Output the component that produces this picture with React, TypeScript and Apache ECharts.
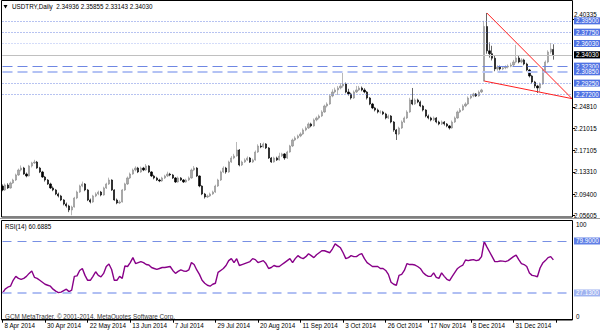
import React, { useEffect, useRef } from "react";
import * as echarts from "echarts";

// ---- axis labels ----
const tickLabels = ["8 Apr 2014", "30 Apr 2014", "22 May 2014", "13 Jun 2014", "7 Jul 2014", "29 Jul 2014", "20 Aug 2014", "11 Sep 2014", "3 Oct 2014", "26 Oct 2014", "17 Nov 2014", "8 Dec 2014", "31 Dec 2014"];
const BARS_PER_LABEL = 16;
const SLOTS = 215;
const priceTicks = [2.05605, 2.094, 2.1331, 2.17105, 2.21015, 2.2481];
const priceTopTick = [2.40335];
const rsiScaleLabels = ["100", "0"];

// ---- OHLC (daily) ----
const open = [
  2.1080, 2.1012, 2.1100, 2.1047, 2.1135, 2.1188, 2.1277, 2.1365, 2.1400, 2.1294,
  2.1259, 2.1436, 2.1489, 2.1506, 2.1400, 2.1330, 2.1241, 2.1188, 2.1118, 2.1047,
  2.1012, 2.0941, 2.0906, 2.0835, 2.0764, 2.0729, 2.0658, 2.0711, 2.0870, 2.0976,
  2.1082, 2.1118, 2.1012, 2.0835, 2.0800, 2.0906, 2.0941, 2.0976, 2.0923, 2.1047,
  2.1118, 2.1188, 2.1012, 2.0835, 2.0782, 2.0800, 2.1012, 2.1118, 2.1224, 2.1294,
  2.1365, 2.1400, 2.1330, 2.1400, 2.1365, 2.1436, 2.1330, 2.1259, 2.1224, 2.1188,
  2.1171, 2.1224, 2.1259, 2.1294, 2.1277, 2.1224, 2.1153, 2.1224, 2.1188, 2.1153,
  2.1188, 2.1224, 2.1365, 2.1400, 2.1259, 2.1082, 2.0941, 2.0888, 2.0906, 2.0941,
  2.0976, 2.1082, 2.1188, 2.1330, 2.1400, 2.1330, 2.1506, 2.1577, 2.1612, 2.1718,
  2.1453, 2.1506, 2.1542, 2.1577, 2.1506, 2.1542, 2.1683, 2.1789, 2.1772, 2.1825,
  2.1754, 2.1577, 2.1506, 2.1577, 2.1542, 2.1612, 2.1648, 2.1577, 2.1683, 2.1789,
  2.1895, 2.1931, 2.1966, 2.2001, 2.2072, 2.2107, 2.2178, 2.2143, 2.2249, 2.2284,
  2.2319, 2.2390, 2.2496, 2.2531, 2.2673, 2.2743, 2.2779, 2.2814, 2.2849, 2.2885,
  2.2743, 2.2708, 2.2637, 2.2743, 2.2779, 2.2814, 2.2779, 2.2743, 2.2637, 2.2531,
  2.2461, 2.2425, 2.2390, 2.2390, 2.2355, 2.2284, 2.2319, 2.2213, 2.2072, 2.2001,
  2.2107, 2.2213, 2.2284, 2.2390, 2.2602, 2.2531, 2.2602, 2.2567, 2.2496, 2.2425,
  2.2319, 2.2284, 2.2249, 2.2284, 2.2213, 2.2178, 2.2213, 2.2178, 2.2143, 2.2107,
  2.2213, 2.2284, 2.2390, 2.2425, 2.2496, 2.2531, 2.2637, 2.2673, 2.2708, 2.2673,
  2.2743, 2.2937, 2.3900, 2.3470, 2.3420, 2.3340, 2.3150, 2.3185, 2.3150, 2.3170,
  2.3185, 2.3200, 2.3220, 2.3273, 2.3344, 2.3273, 2.3309, 2.3238, 2.3132, 2.3026,
  2.2920, 2.2849, 2.2814, 2.2885, 2.3132, 2.3273, 2.3450, 2.34936
];
const close = [
  2.1012, 2.1100, 2.1047, 2.1135, 2.1188, 2.1277, 2.1365, 2.1400, 2.1294, 2.1259,
  2.1436, 2.1489, 2.1506, 2.1400, 2.1330, 2.1241, 2.1188, 2.1118, 2.1047, 2.1012,
  2.0941, 2.0906, 2.0835, 2.0764, 2.0729, 2.0658, 2.0711, 2.0870, 2.0976, 2.1082,
  2.1118, 2.1012, 2.0835, 2.0800, 2.0906, 2.0941, 2.0976, 2.0923, 2.1047, 2.1118,
  2.1188, 2.1012, 2.0835, 2.0782, 2.0800, 2.1012, 2.1118, 2.1224, 2.1294, 2.1365,
  2.1400, 2.1330, 2.1400, 2.1365, 2.1436, 2.1330, 2.1259, 2.1224, 2.1188, 2.1171,
  2.1224, 2.1259, 2.1294, 2.1277, 2.1224, 2.1153, 2.1224, 2.1188, 2.1153, 2.1188,
  2.1224, 2.1365, 2.1400, 2.1259, 2.1082, 2.0941, 2.0888, 2.0906, 2.0941, 2.0976,
  2.1082, 2.1188, 2.1330, 2.1400, 2.1330, 2.1506, 2.1577, 2.1612, 2.1718, 2.1453,
  2.1506, 2.1542, 2.1577, 2.1506, 2.1542, 2.1683, 2.1789, 2.1772, 2.1825, 2.1754,
  2.1577, 2.1506, 2.1577, 2.1542, 2.1612, 2.1648, 2.1577, 2.1683, 2.1789, 2.1895,
  2.1931, 2.1966, 2.2001, 2.2072, 2.2107, 2.2178, 2.2143, 2.2249, 2.2284, 2.2319,
  2.2390, 2.2496, 2.2531, 2.2673, 2.2743, 2.2779, 2.2814, 2.2849, 2.2885, 2.2743,
  2.2708, 2.2637, 2.2743, 2.2779, 2.2814, 2.2779, 2.2743, 2.2637, 2.2531, 2.2461,
  2.2425, 2.2390, 2.2390, 2.2355, 2.2284, 2.2319, 2.2213, 2.2072, 2.2001, 2.2107,
  2.2213, 2.2284, 2.2390, 2.2602, 2.2531, 2.2602, 2.2567, 2.2496, 2.2425, 2.2319,
  2.2284, 2.2249, 2.2284, 2.2213, 2.2178, 2.2213, 2.2178, 2.2143, 2.2107, 2.2213,
  2.2284, 2.2390, 2.2425, 2.2496, 2.2531, 2.2637, 2.2673, 2.2708, 2.2673, 2.2743,
  2.2779, 2.3900, 2.3470, 2.3420, 2.3340, 2.3150, 2.3185, 2.3150, 2.3170, 2.3185,
  2.3200, 2.3220, 2.3273, 2.3344, 2.3273, 2.3309, 2.3238, 2.3132, 2.3026, 2.2920,
  2.2849, 2.2814, 2.2885, 2.3132, 2.3273, 2.3450, 2.3504, 2.34030
];
const high = [
  2.1110, 2.1125, 2.1130, 2.1160, 2.1210, 2.1300, 2.1390, 2.1445, 2.1420, 2.1320,
  2.1455, 2.1510, 2.1545, 2.1525, 2.1420, 2.1350, 2.1260, 2.1205, 2.1140, 2.1075,
  2.1030, 2.0965, 2.0925, 2.0850, 2.0790, 2.0750, 2.0735, 2.0890, 2.1000, 2.1105,
  2.1160, 2.1135, 2.1030, 2.0860, 2.0925, 2.0970, 2.1000, 2.0995, 2.1070, 2.1140,
  2.1230, 2.1200, 2.1025, 2.0860, 2.0830, 2.1030, 2.1140, 2.1250, 2.1320, 2.1390,
  2.1430, 2.1420, 2.1425, 2.1420, 2.1470, 2.1450, 2.1345, 2.1280, 2.1245, 2.1210,
  2.1245, 2.1280, 2.1335, 2.1315, 2.1295, 2.1240, 2.1250, 2.1240, 2.1205, 2.1210,
  2.1250, 2.1390, 2.1435, 2.1415, 2.1270, 2.1095, 2.0960, 2.0930, 2.0965, 2.1000,
  2.1105, 2.1210, 2.1355, 2.1430, 2.1420, 2.1530, 2.1610, 2.1650, 2.1860, 2.1735,
  2.1530, 2.1570, 2.1605, 2.1595, 2.1565, 2.1710, 2.1820, 2.1840, 2.1850, 2.1840,
  2.1770, 2.1595, 2.1600, 2.1600, 2.1670, 2.1670, 2.1665, 2.1705, 2.1810, 2.1920,
  2.1960, 2.1990, 2.2030, 2.2100, 2.2135, 2.2205, 2.2200, 2.2275, 2.2310, 2.2345,
  2.2420, 2.2520, 2.2560, 2.2700, 2.2790, 2.2820, 2.2850, 2.2900, 2.3079, 2.2910,
  2.2800, 2.2730, 2.2770, 2.2850, 2.2850, 2.2840, 2.2810, 2.2760, 2.2655, 2.2550,
  2.2480, 2.2450, 2.2420, 2.2410, 2.2375, 2.2345, 2.2335, 2.2230, 2.2090, 2.2130,
  2.2240, 2.2310, 2.2420, 2.2640, 2.2814, 2.2630, 2.2625, 2.2590, 2.2515, 2.2440,
  2.2345, 2.2305, 2.2310, 2.2300, 2.2235, 2.2240, 2.2230, 2.2195, 2.2160, 2.2240,
  2.2310, 2.2415, 2.2460, 2.2525, 2.2560, 2.2665, 2.2700, 2.2730, 2.2725, 2.2770,
  2.2800, 2.4000, 2.4139, 2.3620, 2.3560, 2.3380, 2.3215, 2.3210, 2.3200, 2.3215,
  2.3230, 2.3260, 2.3310, 2.3574, 2.3380, 2.3340, 2.3330, 2.3260, 2.3150, 2.3045,
  2.2940, 2.2870, 2.2910, 2.3160, 2.3300, 2.3480, 2.3609, 2.35855
];
const low = [
  2.0990, 2.0995, 2.1030, 2.1035, 2.1120, 2.1170, 2.1260, 2.1340, 2.1280, 2.1235,
  2.1250, 2.1410, 2.1470, 2.1385, 2.1310, 2.1225, 2.1160, 2.1100, 2.1030, 2.0990,
  2.0920, 2.0880, 2.0815, 2.0740, 2.0700, 2.0620, 2.0565, 2.0700, 2.0850, 2.0960,
  2.1060, 2.0990, 2.0815, 2.0775, 2.0785, 2.0885, 2.0920, 2.0900, 2.0910, 2.1030,
  2.1100, 2.0995, 2.0820, 2.0760, 2.0765, 2.0790, 2.0995, 2.1100, 2.1205, 2.1280,
  2.1340, 2.1310, 2.1315, 2.1345, 2.1350, 2.1310, 2.1240, 2.1200, 2.1170, 2.1150,
  2.1155, 2.1205, 2.1240, 2.1255, 2.1205, 2.1135, 2.1140, 2.1170, 2.1135, 2.1140,
  2.1170, 2.1210, 2.1345, 2.1240, 2.1060, 2.0920, 2.0860, 2.0870, 2.0890, 2.0925,
  2.0960, 2.1065, 2.1170, 2.1310, 2.1300, 2.1315, 2.1490, 2.1555, 2.1600, 2.1430,
  2.1435, 2.1490, 2.1525, 2.1490, 2.1490, 2.1530, 2.1665, 2.1750, 2.1755, 2.1735,
  2.1560, 2.1490, 2.1495, 2.1525, 2.1530, 2.1595, 2.1545, 2.1560, 2.1670, 2.1770,
  2.1875, 2.1910, 2.1945, 2.1985, 2.2050, 2.2090, 2.2120, 2.2130, 2.2225, 2.2260,
  2.2300, 2.2375, 2.2470, 2.2515, 2.2650, 2.2720, 2.2690, 2.2790, 2.2820, 2.2720,
  2.2680, 2.2610, 2.2620, 2.2725, 2.2760, 2.2755, 2.2720, 2.2610, 2.2510, 2.2440,
  2.2400, 2.2365, 2.2360, 2.2335, 2.2260, 2.2265, 2.2190, 2.2040, 2.1895, 2.1980,
  2.2090, 2.2195, 2.2265, 2.2375, 2.2510, 2.2515, 2.2545, 2.2475, 2.2400, 2.2295,
  2.2260, 2.2225, 2.2230, 2.2190, 2.2155, 2.2160, 2.2150, 2.2120, 2.2080, 2.2095,
  2.2195, 2.2270, 2.2370, 2.2410, 2.2475, 2.2515, 2.2615, 2.2650, 2.2655, 2.2660,
  2.2725, 2.2930, 2.3420, 2.3350, 2.3300, 2.3110, 2.3120, 2.3125, 2.3130, 2.3145,
  2.3160, 2.3180, 2.3200, 2.3250, 2.3250, 2.3250, 2.3215, 2.3110, 2.3000, 2.2890,
  2.2810, 2.2725, 2.2740, 2.2870, 2.3110, 2.3250, 2.3420, 2.33143
];

// ---- RSI(14) ----
const rsi = [
  27, 31, 33, 34, 40, 44, 42, 41, 42, 44,
  47, 49.5, 43, 42, 40, 38, 36, 35, 34, 31,
  29, 27.5, 28, 29.5, 31, 28.5, 30, 44, 44.5, 50,
  52, 45, 40, 40, 44, 48.7, 45, 43.5, 47, 54,
  56.5, 51, 40, 40, 44, 42, 54.5, 54, 58, 63,
  57, 58, 59, 58, 56, 55.5, 53, 52, 51, 52,
  53, 53, 53.5, 54, 50, 47, 49, 50.5, 49.5, 49,
  50.5, 58, 56, 50.5, 46, 40, 37, 35, 34, 36,
  37, 48, 50, 52, 55, 60, 62, 58, 62, 55,
  56, 57, 58, 59, 62, 61, 58, 59, 60, 57,
  52, 53, 55, 54, 54, 56, 58, 60, 62, 58,
  62, 65, 63, 62, 64, 67, 65, 63, 66, 68,
  70, 70, 69, 68, 72, 77, 75, 73, 68, 62,
  63, 65, 64, 64, 66, 67, 62, 58, 56, 54,
  54, 54, 52, 52, 50, 46, 38, 36, 35, 45,
  46, 50, 57, 56, 56, 55.5, 54, 52, 48, 45.5,
  44, 44, 47.5, 43, 42, 47.5, 44, 41, 39.6, 44,
  48, 52, 54, 55.5, 60.6, 60, 60.6, 61, 60, 60.6,
  64, 79.2, 74, 69, 64, 59, 59, 59.6, 59.5, 59,
  60, 62, 64, 65.6, 61, 57, 56, 54, 47.5, 45,
  44.5, 43.6, 52.5, 57.5, 60, 63, 64, 60.6885
];

// ---- drawn objects ----
const priceLevels = [2.395, 2.3775, 2.3603, 2.3365, 2.323, 2.3085, 2.2925, 2.272];
const levelKinds = ["dot", "dot", "dotLight", "dotLight", "dash", "dashLight", "dot", "dot"];
const bidPrice = 2.3403;
const rsiLevels = [79.9, 27.13];
const trendUpper = [[182, 2.4139], [214, 2.2626]];
const trendLower = [[181, 2.2937], [214, 2.2626]];

const FONT = "'Liberation Sans', 'DejaVu Sans', sans-serif";
const FS = 6.3;
const P_MIN = 2.0552;
const P_MAX = 2.4333;

export default function App() {
  const ref = useRef<HTMLDivElement>(null);
  useEffect(() => {
    const chart = echarts.init(ref.current!, null, { renderer: "svg" });
    const slots = Array.from({ length: SLOTS }, (_, i) => String(i));
    const candleData = close.map((c, i) => [open[i], c, low[i], high[i]]);

    const kindStyle: Record<string, any> = {
      dot: { color: "#6f87e3", type: [1, 2], width: 1, bg: "#4f72e3" },
      dotLight: { color: "#a9b9f2", type: [1, 2], width: 1, bg: "#4f72e3" },
      dash: { color: "#6f87e3", type: [10, 5], width: 1, bg: "#4f72e3" },
      dashLight: { color: "#b3c2f4", type: [10, 5], width: 2, bg: "#4f72e3" },
    };
    const boxLabel = (text: string, bg: string) => ({
      show: true,
      position: "end",
      formatter: text,
      backgroundColor: bg,
      color: "#fff",
      padding: [0, 2, 0, 2],
      lineHeight: 7,
      fontSize: FS,
      fontFamily: FONT,
      distance: 2,
    });

    const priceLines: any[] = priceLevels.map((v, i) => {
      const s = kindStyle[levelKinds[i]];
      return { yAxis: v, lineStyle: { color: s.color, type: s.type, width: s.width }, label: boxLabel(v.toFixed(5), s.bg) };
    });
    priceLines.push({ yAxis: bidPrice, lineStyle: { color: "#c0c0c0", type: "solid", width: 1 }, label: boxLabel(bidPrice.toFixed(5), "#000") });
    priceLines.push([
      { coord: trendUpper[0], lineStyle: { color: "#ff2020", type: "solid", width: 1 }, label: { show: false } },
      { coord: trendUpper[1] },
    ]);
    priceLines.push([
      { coord: trendLower[0], lineStyle: { color: "#ff2020", type: "solid", width: 1 }, label: { show: false } },
      { coord: trendLower[1] },
    ]);

    const rsiLines: any[] = rsiLevels.map((v, i) => ({
      yAxis: v,
      lineStyle: i === 0 ? { color: "#7890e4", type: [9, 6], width: 1 } : { color: "#b0bff3", type: [9, 6], width: 2 },
      label: boxLabel(v.toFixed(4), i === 0 ? "#5f7fe6" : "#9fb3f0"),
    }));

    const labelAxis = (gridIndex: number, min: number, max: number, values: number[], vAlign: string, pad: number[]) => ({
      type: "value",
      gridIndex,
      position: "right",
      min,
      max,
      axisLine: { show: false },
      splitLine: { show: false },
      axisTick: { show: true, length: 3, customValues: values, lineStyle: { color: "#000" } },
      axisLabel: {
        show: true,
        customValues: values,
        margin: 2,
        fontSize: FS,
        fontFamily: FONT,
        color: "#000",
        verticalAlign: vAlign,
        padding: pad,
        formatter: (v: number) => v.toFixed(5),
      },
    });

    const option: any = {
      animation: false,
      backgroundColor: "#fff",
      grid: [
        { left: 2.5, top: 2, width: 569.5, height: 214 },
        { left: 2.5, top: 221.2, width: 569.5, height: 98.5 },
      ],
      xAxis: [
        { type: "category", gridIndex: 0, data: slots, boundaryGap: false, show: false },
        {
          type: "category",
          gridIndex: 1,
          data: slots,
          boundaryGap: false,
          axisLine: { show: true, onZero: false, lineStyle: { color: "#000", width: 1 } },
          axisTick: { show: true, interval: BARS_PER_LABEL - 1, length: 3, lineStyle: { color: "#000" } },
          axisLabel: {
            interval: BARS_PER_LABEL - 1,
            align: "left",
            margin: 3,
            padding: [0, 0, 0, 2],
            fontSize: FS,
            fontFamily: FONT,
            color: "#000",
            formatter: (_v: string, idx: number) => (idx % BARS_PER_LABEL === 0 && tickLabels[idx / BARS_PER_LABEL]) || "",
          },
          splitLine: { show: false },
        },
      ],
      yAxis: [
        labelAxis(0, P_MIN, P_MAX, priceTicks, "middle", [0, 0, 0, 0]),
        labelAxis(0, P_MIN, P_MAX, priceTopTick, "bottom", [0, 0, 1, 0]),
        { type: "value", gridIndex: 1, position: "right", min: 0, max: 100, show: false, splitLine: { show: false } },
      ],
      series: [
        {
          type: "candlestick",
          xAxisIndex: 0,
          yAxisIndex: 0,
          data: candleData,
          barWidth: 1.7,
          itemStyle: { color: "#a9a9a9", color0: "#000", borderColor: "#8a8a8a", borderColor0: "#000", borderWidth: 0.6 },
          markLine: { silent: true, symbol: ["none", "none"], animation: false, data: priceLines },
        },
        {
          type: "line",
          xAxisIndex: 1,
          yAxisIndex: 2,
          data: rsi,
          symbol: "none",
          lineStyle: { color: "#880088", width: 1.4 },
          markLine: { silent: true, symbol: ["none", "none"], animation: false, data: rsiLines },
        },
      ],
      graphic: [
        { type: "rect", shape: { x: 1.5, y: 0.5, width: 571, height: 216.5 }, style: { fill: "none", stroke: "#000", lineWidth: 1 }, silent: true, z: 100 },
        { type: "line", shape: { x1: 0, y1: 218.5, x2: 600, y2: 218.5 }, style: { stroke: "#9a9a9a", lineWidth: 1 }, silent: true, z: 100 },
        { type: "rect", shape: { x: 1.5, y: 220.5, width: 571, height: 99.5 }, style: { fill: "none", stroke: "#000", lineWidth: 1 }, silent: true, z: 100 },
        { type: "polygon", shape: { points: [[3.5, 5], [7.5, 5], [5.5, 8.5]] }, style: { fill: "#000" }, silent: true, z: 100 },
        { type: "text", x: 12, y: 6.8, style: { text: "USDTRY,Daily  2.34936 2.35855 2.33143 2.34030", fontSize: FS, fontFamily: FONT, fill: "#000", verticalAlign: "middle" }, silent: true, z: 100 },
        { type: "text", x: 5, y: 226, style: { text: "RSI(14) 60.6885", fontSize: FS, fontFamily: FONT, fill: "#000", verticalAlign: "middle" }, silent: true, z: 100 },
        { type: "text", x: 5, y: 316.5, style: { text: "GCM MetaTrader. © 2001-2014, MetaQuotes Software Corp.", fontSize: FS, fontFamily: FONT, fill: "#333", verticalAlign: "middle" }, silent: true, z: 100 },
        { type: "text", x: 576, y: 224.5, style: { text: rsiScaleLabels[0], fontSize: FS, fontFamily: FONT, fill: "#000", verticalAlign: "middle" }, silent: true, z: 100 },
        { type: "text", x: 576, y: 316.5, style: { text: rsiScaleLabels[1], fontSize: FS, fontFamily: FONT, fill: "#000", verticalAlign: "middle" }, silent: true, z: 100 },
      ],
    };
    chart.setOption(option);
    return () => chart.dispose();
  }, []);
  return <div ref={ref} style={{ position: "absolute", left: 0, top: 0, width: 600, height: 333, background: "#fff" }} />;
}
